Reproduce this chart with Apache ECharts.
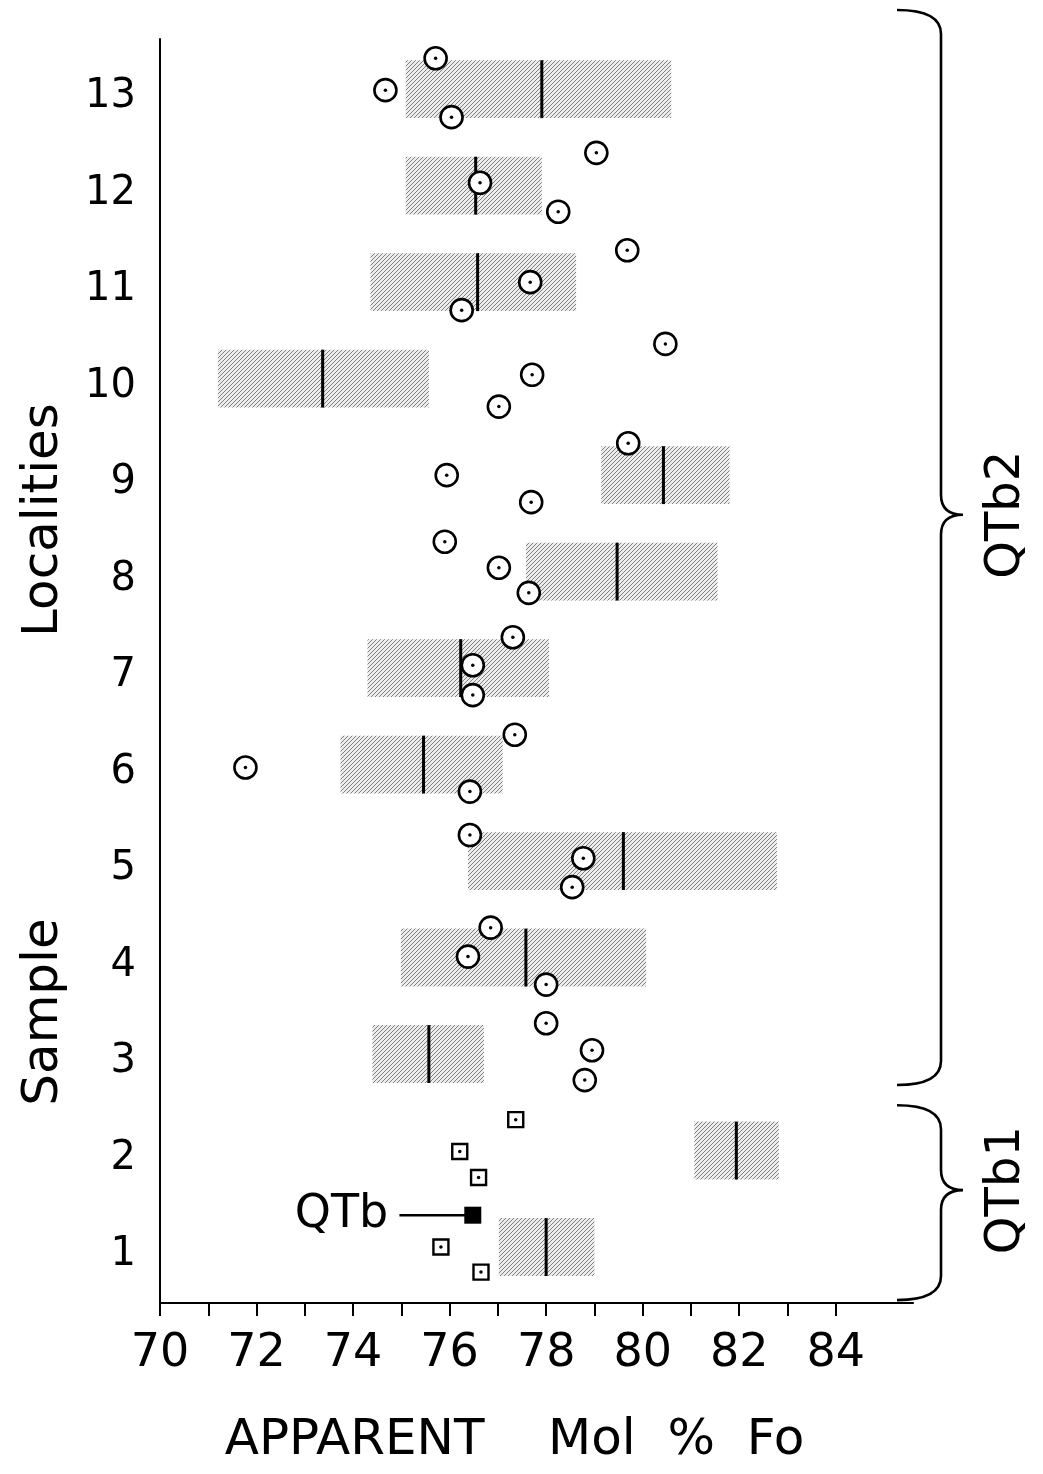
<!DOCTYPE html>
<html>
<head>
<meta charset="utf-8">
<title>Apparent Mol % Fo by sample locality</title>
<script src="https://cdn.jsdelivr.net/npm/echarts@6/dist/echarts.min.js"></script>
<style>
html, body { margin: 0; padding: 0; background: #fff; }
#main { width: 1043px; height: 1474px; }
</style>
</head>
<body>
<div id="main"></div>
<script>
// sample localities, bottom to top
var samples = [1, 2, 3, 4, 5, 6, 7, 8, 9, 10, 11, 12, 13];
// shaded range and mean line for each locality (apparent mol % Fo)
var boxLow  = [77.02, 81.07, 74.40, 74.99, 76.38, 73.74, 74.30, 77.58, 79.14, 71.20, 74.36, 75.09, 75.09];
var boxHigh = [79.00, 82.82, 76.71, 80.07, 82.78, 77.10, 78.06, 81.55, 81.80, 75.57, 78.62, 77.91, 80.59];
var boxMean = [78.00, 81.94, 75.57, 77.58, 79.60, 75.46, 76.23, 79.47, 80.43, 73.37, 76.58, 76.54, 77.91];

// single analyses, QTb2 localities (circles): [mol % Fo, sample position]
var pointsQTb2 = [
    [78.00, 3.40], [78.95, 3.12], [78.80, 2.81],
    [76.85, 4.39], [76.38, 4.09], [78.00, 3.80],
    [76.42, 5.35], [78.77, 5.11], [78.54, 4.81],
    [77.35, 6.39], [71.77, 6.05], [76.42, 5.80],
    [77.31, 7.40], [76.48, 7.11], [76.48, 6.80],
    [75.90, 8.39], [77.02, 8.12], [77.64, 7.86],
    [79.70, 9.41], [75.94, 9.08], [77.69, 8.80],
    [80.47, 10.44], [77.71, 10.12], [77.02, 9.79],
    [79.68, 11.41], [77.67, 11.08], [76.25, 10.79],
    [79.04, 12.42], [76.63, 12.11], [78.25, 11.81],
    [75.71, 13.40], [74.67, 13.07], [76.04, 12.79]
];
// single analyses, QTb1 localities (squares)
var pointsQTb1 = [
    [77.37, 2.40], [76.21, 2.07], [76.60, 1.80],
    [75.82, 1.08], [76.65, 0.82]
];
// QTb bulk value (filled square) and start of its pointer
var qtbBulk = [[76.48, 1.41]];
var qtbPointerFrom = 74.96;

var xTicks = [70, 71, 72, 73, 74, 75, 76, 77, 78, 79, 80, 81, 82, 83, 84];
var xLabels = [70, 72, 74, 76, 78, 80, 82, 84];

// unit braces on the right
var braceNames = ['QTb2', 'QTb1'];
var braceTop = [13.90, 2.55];
var braceBottom = [2.76, 0.53];
var braceTip = [8.67, 1.67];

var FONT = 'DejaVu Sans';
var X_MIN = 70, X_MAX = 85.6;
var BOX_UP = 0.38, BOX_DOWN = 0.22;

function makeHatch() {
    var c = document.createElement('canvas');
    c.width = 8; c.height = 8;
    var g = c.getContext('2d');
    g.fillStyle = '#ececec';
    g.fillRect(0, 0, 8, 8);
    g.strokeStyle = '#808080';
    g.lineWidth = 1;
    g.beginPath();
    for (var k = -8; k <= 16; k += 4) {
        g.moveTo(k, 8);
        g.lineTo(k + 8, 0);
    }
    g.stroke();
    return c;
}
var hatch = { image: makeHatch(), repeat: 'repeat' };

var boxData = samples.map(function (s, i) {
    return [s, boxLow[i], boxHigh[i], boxMean[i]];
});
var braceData = braceNames.map(function (n, i) {
    return [X_MAX, braceTop[i], braceBottom[i], braceTip[i]];
});

function renderBox(params, api) {
    var y = api.value(0);
    var p0 = api.coord([api.value(1), y + BOX_UP]);
    var p1 = api.coord([api.value(2), y - BOX_DOWN]);
    var m0 = api.coord([api.value(3), y + BOX_UP]);
    var m1 = api.coord([api.value(3), y - BOX_DOWN]);
    return {
        type: 'group',
        children: [{
            type: 'rect',
            shape: { x: p0[0], y: p0[1], width: p1[0] - p0[0], height: p1[1] - p0[1] },
            style: { fill: hatch }
        }, {
            type: 'line',
            shape: { x1: m0[0], y1: m0[1], x2: m1[0], y2: m1[1] },
            style: { stroke: '#000', lineWidth: 3 }
        }]
    };
}

// curly brace with a group name beside it
function renderBrace(params, api) {
    var xEnd = api.coord([api.value(0), api.value(1)])[0];
    var top = api.coord([api.value(0), api.value(1)])[1];
    var bot = api.coord([api.value(0), api.value(2)])[1];
    var tip = api.coord([api.value(0), api.value(3)])[1];
    var xl = xEnd + 28, x0 = xEnd - 16, xt = xl + 22;
    var d = 'M' + x0 + ' ' + top +
        ' Q' + xl + ' ' + top + ' ' + xl + ' ' + (top + 24) +
        ' L' + xl + ' ' + (tip - 20) +
        ' Q' + xl + ' ' + tip + ' ' + xt + ' ' + tip +
        ' Q' + xl + ' ' + tip + ' ' + xl + ' ' + (tip + 20) +
        ' L' + xl + ' ' + (bot - 24) +
        ' Q' + xl + ' ' + bot + ' ' + x0 + ' ' + bot;
    return {
        type: 'group',
        children: [{
            type: 'path',
            shape: { pathData: d },
            style: { stroke: '#000', lineWidth: 2.6, fill: null }
        }, {
            type: 'text',
            x: xEnd + 94,
            y: tip,
            rotation: Math.PI / 2,
            style: {
                text: braceNames[params.dataIndex], fill: '#000', fontSize: 48, fontFamily: FONT,
                align: 'center', verticalAlign: 'middle'
            }
        }]
    };
}

var chart = echarts.init(document.getElementById('main'));

var option = {
    backgroundColor: '#fff',
    animation: false,
    grid: { left: 160, right: 130, top: 39, bottom: 171, containLabel: false, outerBoundsMode: 'none' },
    xAxis: {
        type: 'value',
        min: X_MIN,
        max: X_MAX,
        axisLine: { show: true, onZero: false, lineStyle: { color: '#000', width: 2.2 } },
        axisTick: { show: true, length: 13, customValues: xTicks, lineStyle: { color: '#000', width: 2 } },
        axisLabel: { customValues: xLabels, margin: 28, color: '#000', fontSize: 46, fontFamily: FONT },
        splitLine: { show: false },
        name: 'APPARENT    Mol  %  Fo',
        nameLocation: 'middle',
        nameGap: 113,
        nameTextStyle: { color: '#000', fontSize: 50, fontFamily: FONT, padding: [0, 44, 0, 0] }
    },
    yAxis: {
        type: 'value',
        min: 0.5,
        max: 13.6,
        axisLine: { show: true, onZero: false, lineStyle: { color: '#000', width: 2 } },
        axisTick: { show: false },
        axisLabel: { customValues: samples, margin: 24, color: '#000', fontSize: 40, fontFamily: FONT },
        splitLine: { show: false }
    },
    graphic: [{
        type: 'text', x: 44, y: 520, rotation: Math.PI / 2,
        style: { text: 'Localities', fill: '#000', fontSize: 50, fontFamily: FONT, align: 'center', verticalAlign: 'middle' }
    }, {
        type: 'text', x: 44, y: 1012, rotation: Math.PI / 2,
        style: { text: 'Sample', fill: '#000', fontSize: 50, fontFamily: FONT, align: 'center', verticalAlign: 'middle' }
    }],
    series: [{
        name: 'range',
        type: 'custom',
        renderItem: renderBox,
        encode: { x: [1, 2, 3], y: 0 },
        data: boxData,
        z: 1,
        silent: true
    }, {
        name: 'units',
        type: 'custom',
        renderItem: renderBrace,
        encode: { x: 0, y: [1, 2, 3] },
        data: braceData,
        clip: false,
        z: 2,
        silent: true
    }, {
        name: 'QTb pointer',
        type: 'line',
        data: [[qtbPointerFrom, qtbBulk[0][1]], qtbBulk[0]],
        symbol: 'none',
        lineStyle: { color: '#000', width: 2.5 },
        z: 3,
        silent: true
    }, {
        name: 'QTb2 analyses',
        type: 'scatter',
        data: pointsQTb2,
        symbol: 'circle',
        symbolSize: 22,
        itemStyle: { color: '#fff', borderColor: '#000', borderWidth: 2.6, opacity: 1 },
        z: 3
    }, {
        name: 'QTb1 analyses',
        type: 'scatter',
        data: pointsQTb1,
        symbol: 'rect',
        symbolSize: 15,
        itemStyle: { color: '#fff', borderColor: '#000', borderWidth: 2.4, opacity: 1 },
        z: 3
    }, {
        name: 'centre dots',
        type: 'scatter',
        data: pointsQTb2.concat(pointsQTb1),
        symbol: 'circle',
        symbolSize: 3.5,
        itemStyle: { color: '#000', opacity: 1 },
        z: 4,
        silent: true
    }, {
        name: 'QTb',
        type: 'scatter',
        data: qtbBulk,
        symbol: 'rect',
        symbolSize: 17,
        itemStyle: { color: '#000', opacity: 1 },
        label: {
            show: true,
            position: 'left',
            distance: 76,
            formatter: 'QTb',
            color: '#000',
            fontSize: 46,
            fontFamily: FONT
        },
        z: 4
    }]
};

chart.setOption(option);

window.onresize = function () {
    chart.resize();
};
</script>
</body>
</html>
